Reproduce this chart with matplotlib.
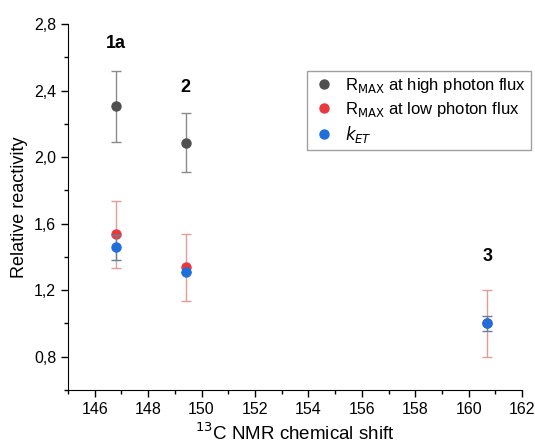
import numpy as np
import matplotlib.pyplot as plt
from matplotlib.lines import Line2D
from matplotlib.ticker import FuncFormatter

plt.rcParams['font.family'] = ['Liberation Sans', 'DejaVu Sans']

# Data
shift_high = [146.8, 149.4]
r_high = [2.305, 2.087]
r_high_err = [0.215, 0.175]

shift_low = [146.8, 149.4, 160.7]
r_low = [1.535, 1.337, 1.0]
r_low_err = [0.2, 0.2, 0.2]

shift_ket = [146.8, 149.4, 160.7]
k_et = [1.457, 1.31, 1.0]
k_et_err = [0.075, 0.0, 0.045]

compounds = ["1a", "2", "3"]
label_x = [146.8, 149.4, 160.7]
label_y = [2.68, 2.42, 1.40]

colors = ['#505050', '#e8393f', '#1e6fdc']
err_colors = ['#8a8a8a', '#e69a9a', '#6a7f9a']
labels = [r'R$_{\mathrm{MAX}}$ at high photon flux',
          r'R$_{\mathrm{MAX}}$ at low photon flux',
          r'$k_{ET}$']

fig = plt.figure(figsize=(5.35, 4.46), dpi=100)
ax = fig.add_axes([0.127, 0.1256, 0.849, 0.8206])

series = [(shift_high, r_high, r_high_err),
          (shift_low, r_low, r_low_err),
          (shift_ket, k_et, k_et_err)]
for i, (xs, ys, es) in enumerate(series):
    ax.errorbar(xs, ys, yerr=es, fmt='o', color=colors[i], ecolor=err_colors[i],
                elinewidth=1, capsize=3.5, capthick=1, ms=6.5, zorder=3 + i)

for name, x, y in zip(compounds, label_x, label_y):
    ax.text(x, y, name, ha='center', va='center', fontsize=13, fontweight='bold')

ax.set_xlim(145, 162)
ax.set_ylim(0.6, 2.8)
ax.set_xticks(np.arange(146, 163, 2))
ax.set_xticks(np.arange(145, 162, 2), minor=True)
ax.set_yticks([0.8, 1.2, 1.6, 2.0, 2.4, 2.8])
ax.set_yticks([0.6, 1.0, 1.4, 1.8, 2.2, 2.6], minor=True)
ax.yaxis.set_major_formatter(FuncFormatter(lambda v, p: f"{v:.1f}".replace('.', ',')))

ax.spines['top'].set_visible(False)
ax.spines['right'].set_visible(False)
ax.tick_params(which='major', direction='out', length=5, width=1, labelsize=11.5)
ax.tick_params(which='minor', direction='out', length=3, width=1)

ax.set_xlabel(r'$^{13}$C NMR chemical shift', fontsize=13.5)
ax.set_ylabel('Relative reactivity', fontsize=13)

handles = [Line2D([], [], ls='none', marker='o', ms=6.5, color=c) for c in colors]
leg = ax.legend(handles, labels, loc='upper right', bbox_to_anchor=(1.038, 0.895),
                fontsize=12, frameon=True, fancybox=False, edgecolor='#888888',
                handletextpad=0.5, borderpad=0.3, labelspacing=0.3,
                handlelength=1.5)
leg.get_frame().set_linewidth(1)

plt.savefig('out.png', dpi=100)
